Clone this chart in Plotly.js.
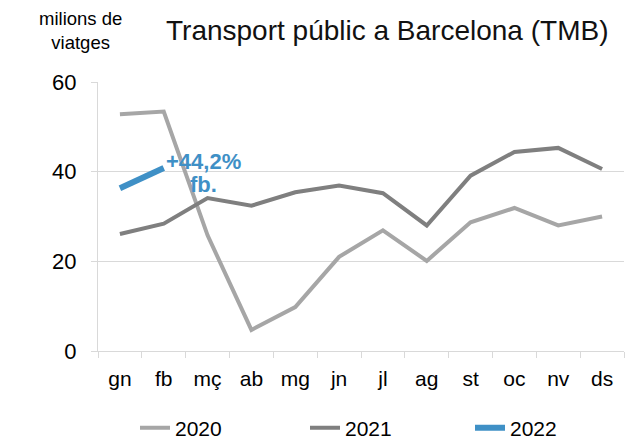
<!DOCTYPE html>
<html>
<head>
<meta charset="utf-8">
<script src="https://cdn.plot.ly/plotly-3.0.1.min.js"></script>
<style>html,body{margin:0;padding:0;background:#fff;}#chart{width:633px;height:439px;}</style>
</head>
<body>
<div id="chart"></div>
<script>
const months = ["gn","fb","mç","ab","mg","jn","jl","ag","st","oc","nv","ds"];
const v2020 = [52.8, 53.4, 25.8, 4.7, 9.8, 21.0, 26.9, 20.1, 28.7, 31.9, 28.0, 30.0];
const v2021 = [26.1, 28.4, 34.1, 32.4, 35.4, 36.9, 35.2, 28.0, 39.1, 44.4, 45.3, 40.6];
const months2022 = ["gn","fb"];
const v2022 = [36.3, 40.8];
const yTicks = [0, 20, 40, 60];

const traces = [
  {x: months, y: v2020, name: "2020", type: "scatter", mode: "lines", legend: "legend",
   line: {color: "#a6a6a6", width: 4}},
  {x: months, y: v2021, name: "2021", type: "scatter", mode: "lines", legend: "legend2",
   line: {color: "#7f7f7f", width: 4}},
  {x: months2022, y: v2022, name: "2022", type: "scatter", mode: "lines", legend: "legend3",
   line: {color: "#3f90c6", width: 6}}
];

function legendAt(px) {
  return {orientation: "h", xref: "container", x: px/633, xanchor: "left",
          yref: "container", y: 1 - 428/439, yanchor: "middle",
          font: {size: 21}, bgcolor: "rgba(0,0,0,0)", itemclick: false, itemdoubleclick: false};
}

const plotL = 98, plotW = 526, plotB = 351, plotH = 269;

const layout = {
  width: 633, height: 439,
  margin: {l: 98, r: 9, t: 82, b: 88},
  paper_bgcolor: "#ffffff", plot_bgcolor: "#ffffff",
  font: {family: "Liberation Sans, Arial, sans-serif", size: 22, color: "#000000"},
  title: {text: "Transport públic a Barcelona (TMB)", font: {size: 28, color: "#111"},
          xref: "container", x: 166/633, xanchor: "left",
          yref: "container", y: 1 - 30/439, yanchor: "middle"},
  xaxis: {type: "category", categoryorder: "array", categoryarray: months,
          range: [-0.5, 11.5], showgrid: false, showline: true, linecolor: "#d9d9d9", linewidth: 1,
          ticks: "outside", tickson: "boundaries", ticklen: 6, tickcolor: "#d9d9d9",
          ticklabelstandoff: 9, tickfont: {size: 21}, fixedrange: true},
  yaxis: {range: [0, 60], tickvals: yTicks, showgrid: true, gridcolor: "#d9d9d9", gridwidth: 1,
          showline: true, linecolor: "#d9d9d9", linewidth: 1, zeroline: false,
          ticks: "outside", ticklen: 6, tickcolor: "#d9d9d9",
          ticklabelstandoff: 10, tickfont: {size: 22}, fixedrange: true},
  showlegend: true,
  legend: legendAt(135),
  legend2: legendAt(305),
  legend3: legendAt(470),
  annotations: [
    {text: "+44,2%", x: 1, y: 42.2, xref: "x", yref: "y", xshift: 40, showarrow: false,
     xanchor: "center", yanchor: "middle", font: {size: 22, color: "#3f90c6", family: "Liberation Sans, Arial, sans-serif", weight: "bold"}},
    {text: "fb.", x: 1, y: 37.1, xref: "x", yref: "y", xshift: 40, showarrow: false,
     xanchor: "center", yanchor: "middle", font: {size: 22, color: "#3f90c6", family: "Liberation Sans, Arial, sans-serif", weight: "bold"}},
    {text: "milions de<br>viatges", xref: "paper", yref: "paper",
     x: (80 - plotL)/plotW, y: (plotB - 31)/plotH,
     showarrow: false, xanchor: "center", yanchor: "middle", align: "center",
     font: {size: 18.5, family: "Liberation Sans, Arial, sans-serif", color: "#000"}}
  ]
};

Plotly.newPlot("chart", traces, layout, {displayModeBar: false, staticPlot: true});
</script>
</body>
</html>
